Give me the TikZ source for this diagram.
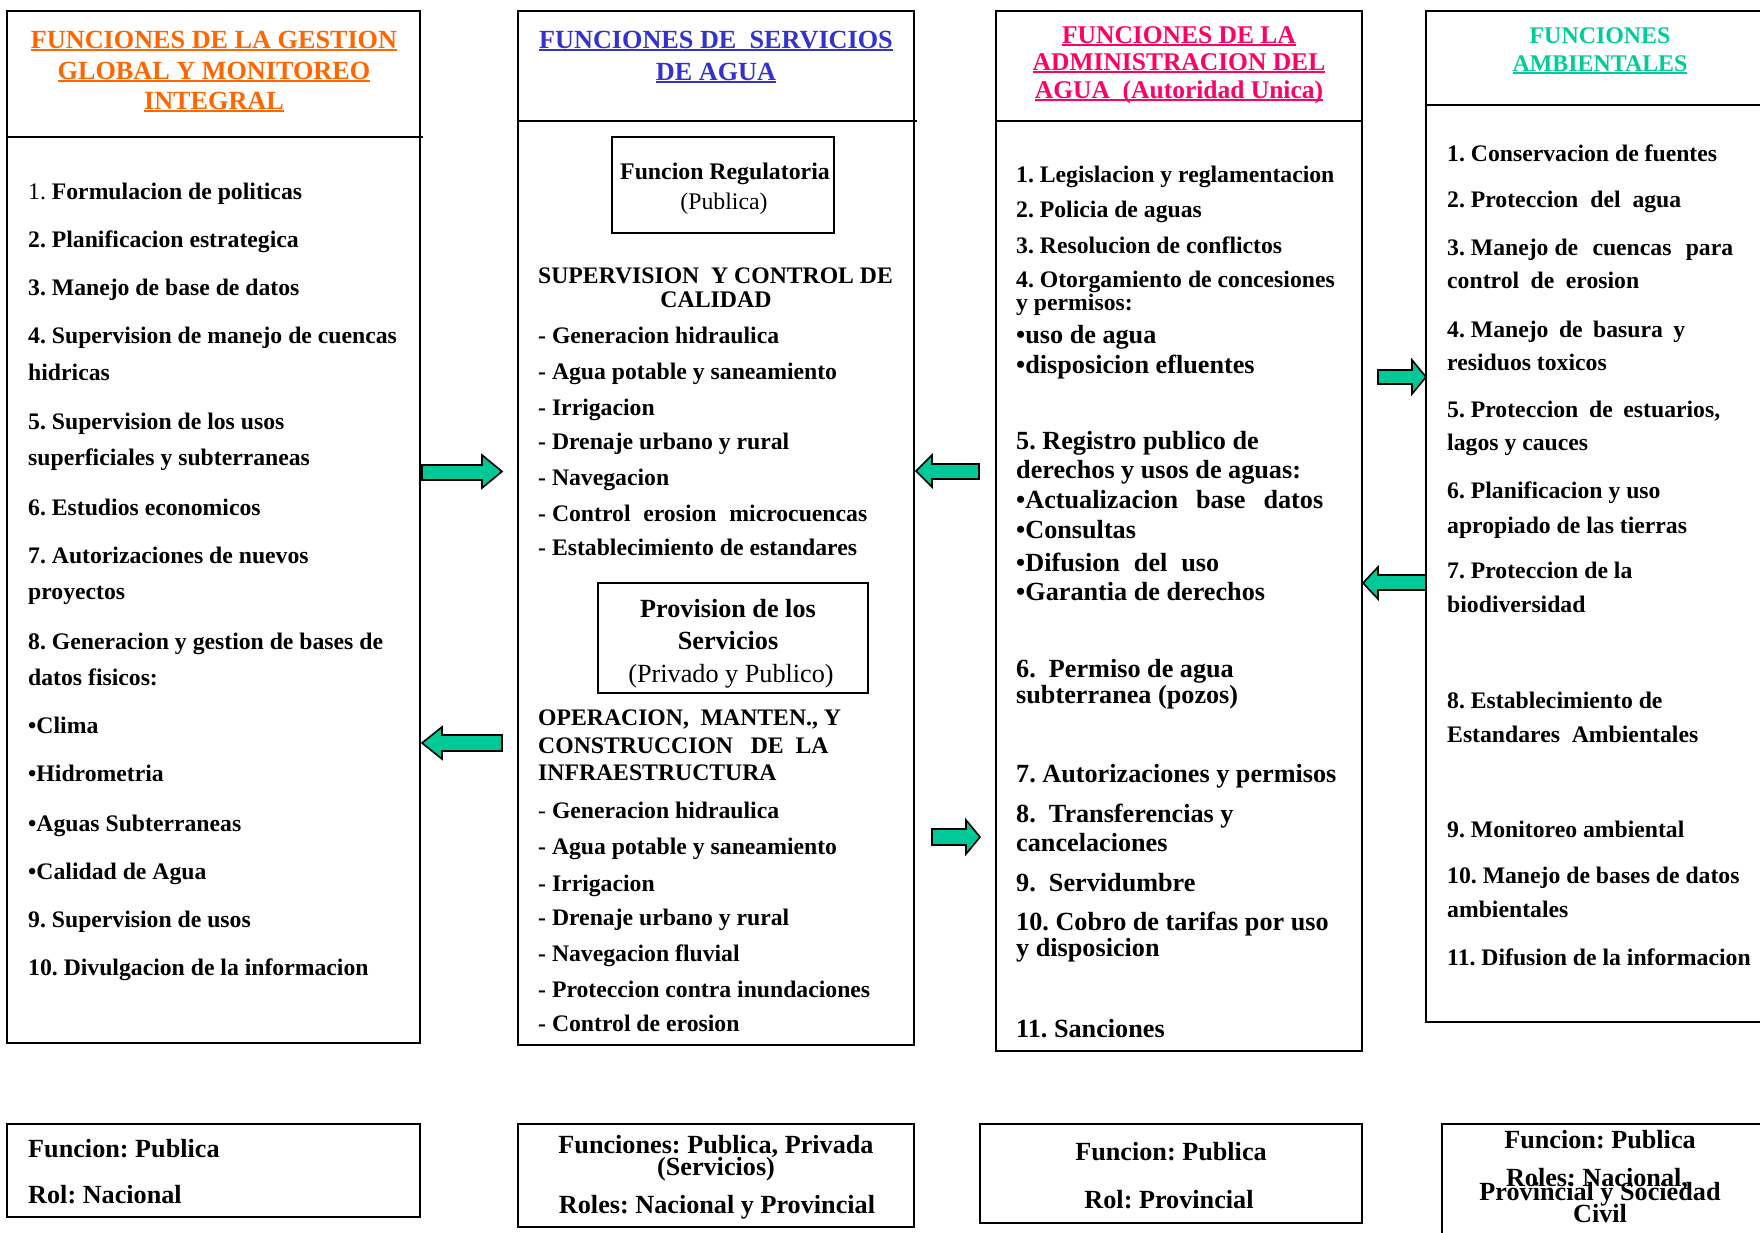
\documentclass[tikz,border=0pt]{standalone}
\usepackage{fontspec}
\setmainfont{Liberation Serif}
\usetikzlibrary{fit}
\definecolor{torange}{HTML}{FF6600}
\definecolor{tblue}{HTML}{3333CC}
\definecolor{tpink}{HTML}{FF0066}
\definecolor{tgreen}{HTML}{00CC99}
\definecolor{agreen}{HTML}{00C896}
\newcommand\fsz[1]{\fontsize{#1}{#1}\selectfont}
\newcommand\myul[1]{\setbox0\hbox{#1}\rlap{\rule[-3pt]{\wd0}{1.8pt}}\box0}
\frenchspacing
\begin{document}
\begin{tikzpicture}[x=1pt,y=-1pt,
  box/.style={draw, line width=2.6pt, inner sep=0pt},
  ibox/.style={draw, line width=2.2pt, inner sep=0pt},
  divline/.style={line width=2.6pt},
  it/.style={anchor=base west, inner sep=0pt, font=\fsz{23.7}\bfseries},
  itb/.style={anchor=base west, inner sep=0pt, font=\fsz{26.2}\bfseries},
  ct/.style={anchor=base, inner sep=0pt, font=\fsz{26.2}\bfseries},
  cts/.style={anchor=base, inner sep=0pt, font=\fsz{23.8}\bfseries},
  ttl/.style={anchor=base, inner sep=0pt, font=\fsz{26.2}\bfseries},
  garrow/.style={draw=black, line width=1.6pt, fill=agreen, line join=miter}]
\useasboundingbox (0,0) rectangle (1760,1232);
\clip (0,0) rectangle (1760,1232);
\fill[white] (0,0) rectangle (1760,1232);

% ---------- main boxes ----------
\node[box, fit={(7,11) (420,1043)}] (b1) {};
\node[box, fit={(518,11) (914,1045)}] (b2) {};
\node[box, fit={(996,11) (1362,1051)}] (b3) {};
\node[box, fit={(1426,11) (1780,1022)}] (b4) {};
\draw[divline] (7,137) -- (423,137);
\draw[divline] (518,121) -- (917,121);
\draw[divline] (996,121) -- (1362,121);
\draw[divline] (1426,105) -- (1780,105);

% ---------- bottom boxes ----------
\node[box, fit={(7,1124) (420,1217)}] (r1) {};
\node[box, fit={(518,1124) (914,1227)}] (r2) {};
\node[box, fit={(980,1124) (1362,1223)}] (r3) {};
\node[box, fit={(1442,1124) (1780,1245)}] (r4) {};

% ---------- titles ----------
\begin{scope}[every node/.append style={ttl}]
\node[text=torange] (t1a) at (214,48) {\myul{FUNCIONES DE LA GESTION}};
\node[text=torange] (t1b) at (214,79) {\myul{GLOBAL Y MONITOREO}};
\node[text=torange] (t1c) at (214,109) {\myul{INTEGRAL}};
\node[text=tblue] (t2a) at (716,48) {\myul{FUNCIONES DE\ \ SERVICIOS}};
\node[text=tblue] (t2b) at (716,80) {\myul{DE AGUA}};
\node[text=tpink, font=\fsz{25.5}\bfseries] (t3a) at (1179,43) {\myul{FUNCIONES DE LA}};
\node[text=tpink, font=\fsz{25.5}\bfseries] (t3b) at (1179,70) {\myul{ADMINISTRACION DEL}};
\node[text=tpink, font=\fsz{25.5}\bfseries] (t3c) at (1179,98) {\myul{AGUA\ \ (Autoridad Unica)}};
\node[text=tgreen, font=\fsz{23.9}\bfseries] (t4a) at (1600,43) {FUNCIONES};
\node[text=tgreen, font=\fsz{23.9}\bfseries] (t4b) at (1600,71) {\myul{AMBIENTALES}};
\end{scope}

% ---------- box 1 items ----------
\foreach \yy/\txt [count=\i] in {
 199/{{\mdseries 1.} Formulacion de politicas},
 247/{2. Planificacion estrategica},
 295/{3. Manejo de base de datos},
 343/{4. Supervision de manejo de cuencas},
 380/{hidricas},
 429/{5. Supervision de los usos},
 465/{superficiales y subterraneas},
 515/{6. Estudios economicos},
 563/{7. Autorizaciones de nuevos},
 599/{proyectos},
 649/{8. Generacion y gestion de bases de},
 685/{datos fisicos:},
 733/{•Clima},
 781/{•Hidrometria},
 831/{•Aguas Subterraneas},
 879/{•Calidad de Agua},
 927/{9. Supervision de usos},
 975/{10. Divulgacion de la informacion}}
 {\node[it] (a\i) at (28,\yy) {\txt};}

% ---------- box 2 ----------
\node[ibox, fit={(612,137) (834,233)}] (reg) {};
\node[cts] (reg1) at (725,179) {Funcion Regulatoria};
\node[cts, font=\fsz{23.8}\mdseries] (reg2) at (724,209) {(Publica)};
\node[it] (sup1) at (538,283) {SUPERVISION\ \ Y CONTROL DE};
\node[cts] (sup2) at (716,307) {CALIDAD};
\foreach \yy/\txt [count=\i] in {
 343/{- Generacion hidraulica},
 379/{- Agua potable y saneamiento},
 415/{- Irrigacion},
 449/{- Drenaje urbano y rural},
 485/{- Navegacion},
 521/{\makebox[329pt][s]{\hbox{- Control} erosion microcuencas}},
 555/{- Establecimiento de estandares}}
 {\node[it] (s\i) at (538,\yy) {\txt};}
\node[ibox, fit={(598,583) (868,693)}] (prov) {};
\node[ct] (prov1) at (728,617) {Provision de los};
\node[ct] (prov2) at (728,649) {Servicios};
\node[ct, font=\fsz{26.2}\mdseries] (prov3) at (731,682) {(Privado y Publico)};
\node[it] (op1) at (538,725) {OPERACION,\ \ MANTEN., Y};
\node[it] (op2) at (538,753) {CONSTRUCCION\ \ \ DE\ \ LA};
\node[it] (op3) at (538,780) {INFRAESTRUCTURA};
\foreach \yy/\txt [count=\i] in {
 818/{{\mdseries -} Generacion hidraulica},
 854/{- Agua potable y saneamiento},
 891/{- Irrigacion},
 925/{- Drenaje urbano y rural},
 961/{- Navegacion fluvial},
 997/{- Proteccion contra inundaciones},
 1031/{- Control de erosion}}
 {\node[it] (o\i) at (538,\yy) {\txt};}

% ---------- box 3 ----------
\foreach \yy/\txt [count=\i] in {
 182/{1. Legislacion y reglamentacion},
 217/{2. Policia de aguas},
 253/{3. Resolucion de conflictos},
 287/{4. Otorgamiento de concesiones},
 310/{y permisos:}}
 {\node[it] (c\i) at (1016,\yy) {\txt};}
\foreach \yy/\txt [count=\i] in {
 343/{•uso de agua},
 373/{•disposicion efluentes},
 449/{5. Registro publico de},
 478/{derechos y usos de aguas:},
 508/{\makebox[307pt][s]{•Actualizacion base datos}},
 538/{•Consultas},
 571/{\makebox[203pt][s]{•Difusion del uso}},
 600/{•Garantia de derechos},
 677/{6.\ \ Permiso de agua},
 703/{subterranea (pozos)},
 782/{7. Autorizaciones y permisos},
 822/{8.\ \ Transferencias y},
 851/{cancelaciones},
 891/{9.\ \ Servidumbre},
 930/{10. Cobro de tarifas por uso},
 956/{y disposicion},
 1037/{11. Sanciones}}
 {\node[itb] (d\i) at (1016,\yy) {\txt};}

% ---------- box 4 ----------
\foreach \yy/\txt [count=\i] in {
 161/{1. Conservacion de fuentes},
 207/{\makebox[234pt][s]{\hbox{2. Proteccion} del agua}},
 255/{\makebox[286pt][s]{\hbox{3. Manejo de} cuencas para}},
 288/{\makebox[192pt][s]{control de erosion}},
 337/{\makebox[238pt][s]{\hbox{4. Manejo} de basura y}},
 370/{residuos toxicos},
 417/{\makebox[273pt][s]{\hbox{5. Proteccion} de estuarios,}},
 450/{lagos y cauces},
 498/{6. Planificacion y uso},
 533/{apropiado de las tierras},
 578/{7. Proteccion de la},
 612/{biodiversidad},
 708/{8. Establecimiento de},
 742/{Estandares\ \ Ambientales},
 837/{9. Monitoreo ambiental},
 883/{10. Manejo de bases de datos},
 917/{ambientales},
 965/{11. Difusion de la informacion}}
 {\node[it] (e\i) at (1447,\yy) {\txt};}

% ---------- bottom texts ----------
\node[itb] (r1a) at (28,1157) {Funcion: Publica};
\node[itb] (r1b) at (28,1203) {Rol: Nacional};
\node[ct] (r2a) at (716,1153) {Funciones: Publica, Privada};
\node[ct] (r2b) at (716,1175) {(Servicios)};
\node[ct] (r2c) at (717,1213) {Roles: Nacional y Provincial};
\node[ct] (r3a) at (1171,1160) {Funcion: Publica};
\node[ct] (r3b) at (1169,1208) {Rol: Provincial};
\node[ct] (r4a) at (1600,1148) {Funcion: Publica};
\node[ct] (r4b) at (1597,1186) {Roles: Nacional,};
\node[ct] (r4c) at (1600,1200) {Provincial y Sociedad};
\node[ct] (r4d) at (1600,1222) {Civil};

% ---------- block arrows ----------
% b1 -> b2 (right)
\draw[garrow] (422,465) -- (482,465) -- (482,455) -- (502,471.5) -- (482,488) -- (482,480) -- (422,480) -- cycle;
% b2 -> b1 (left)
\draw[garrow] (502,735) -- (442,735) -- (442,727) -- (422,743) -- (442,759) -- (442,751) -- (502,751) -- cycle;
% b3 -> b2 (left)
\draw[garrow] (979,464) -- (932,464) -- (932,455) -- (916,471) -- (932,487) -- (932,479) -- (979,479) -- cycle;
% b2 -> b3 (right)
\draw[garrow] (932,829) -- (966,829) -- (966,820) -- (980,837) -- (966,854) -- (966,845) -- (932,845) -- cycle;
% b3 -> b4 (right)
\draw[garrow] (1378,370) -- (1412,370) -- (1412,360) -- (1426,377) -- (1412,394) -- (1412,384) -- (1378,384) -- cycle;
% b4 -> b3 (left)
\draw[garrow] (1426,575) -- (1378,575) -- (1378,567) -- (1363,583) -- (1378,599) -- (1378,590) -- (1426,590) -- cycle;
\end{tikzpicture}
\end{document}
